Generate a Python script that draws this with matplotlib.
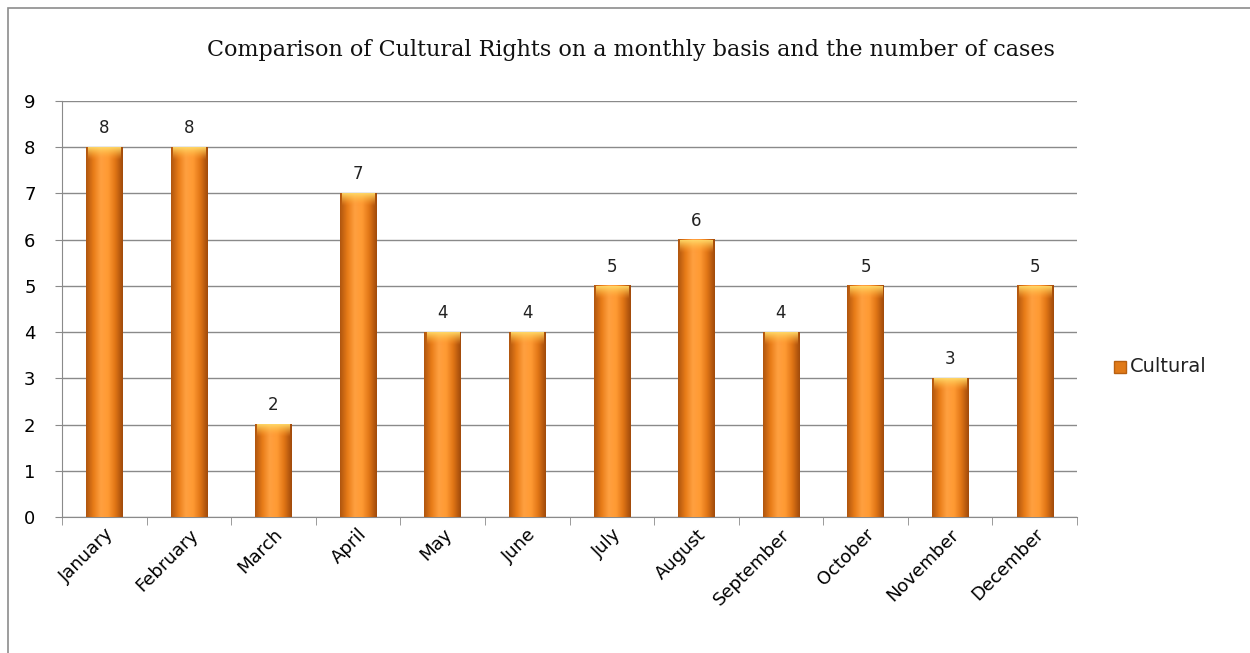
import numpy as np
import matplotlib.pyplot as plt
from matplotlib.colors import LinearSegmentedColormap
from matplotlib.patches import Rectangle

months = ['January', 'February', 'March', 'April', 'May', 'June', 'July',
          'August', 'September', 'October', 'November', 'December']
cases = [8, 8, 2, 7, 4, 4, 5, 6, 4, 5, 3, 5]
series_name = 'Cultural'

fig = plt.figure(figsize=(12.5, 6.53), dpi=100)
ax = fig.add_axes([0.0496, 0.2083, 0.812, 0.637])

# outer frame of the chart (left / top visible)
fig.patches.append(Rectangle((8 / 1250, -0.1), 1.2, 1 - 8 / 653 + 0.1,
                             transform=fig.transFigure, fill=False,
                             edgecolor='#8c8c8c', linewidth=1.2))

x = np.arange(len(months))
width = 0.43
bars = ax.bar(x, cases, width=width, color='#f08a1c', zorder=2)

# cylinder like shading across each bar
cmap = LinearSegmentedColormap.from_list(
    'orange_cyl', ['#b0560f', '#e87c18', '#ffa040', '#ff9a33', '#e07515', '#a04a0b'])
cap_cmap = LinearSegmentedColormap.from_list(
    'cap', [(1, 0.6, 0.2, 0.0), (1, 0.75, 0.3, 0.5), (1, 0.86, 0.42, 0.95)])
grad = np.linspace(0, 1, 64).reshape(1, -1)
cap = np.linspace(0, 1, 32).reshape(-1, 1)
for b in bars:
    x0, w, h = b.get_x(), b.get_width(), b.get_height()
    ax.imshow(grad, cmap=cmap, aspect='auto', extent=[x0, x0 + w, 0, h],
              zorder=3, interpolation='bicubic')
    # light cap at the top
    ax.imshow(cap, cmap=cap_cmap, aspect='auto',
              extent=[x0 + w * 0.06, x0 + w * 0.94, h - 0.28, h],
              zorder=4, interpolation='bicubic', origin='lower')
    ax.text(x0 + w / 2, h + 0.22, str(int(h)), ha='center', va='bottom',
            fontsize=12, color='#222222', zorder=5)

ax.set_xlim(-0.5, len(months) - 0.5)
ax.set_ylim(0, 9)
ax.set_yticks(range(0, 10))
ax.set_yticklabels([str(v) for v in range(0, 10)], fontsize=13)
ax.yaxis.grid(True, color='#8a8a8a', linewidth=1.0, zorder=0)
ax.set_axisbelow(True)

ax.set_xticks(x)
ax.set_xticklabels(months, rotation=45, ha='right', rotation_mode='anchor',
                   fontsize=13)
ax.tick_params(axis='x', length=0, pad=6)
ax.set_xticks(np.arange(-0.5, len(months)), minor=True)
ax.tick_params(axis='x', which='minor', length=6, color='#8a8a8a')
ax.tick_params(axis='y', length=5, color='#8a8a8a', pad=14)

for s in ['top', 'right']:
    ax.spines[s].set_visible(False)
for s in ['left', 'bottom']:
    ax.spines[s].set_color('#8a8a8a')

fig.text(0.505, 0.923, 'Comparison of Cultural Rights on a monthly basis and the number of cases',
         ha='center', va='center', fontsize=16, family='DejaVu Serif', color='#111111')

# legend
fig.patches.append(Rectangle((1114 / 1250, 1 - 373 / 653), 12 / 1250, 12 / 653,
                             transform=fig.transFigure, facecolor='#e07a18',
                             edgecolor='#b86010'))
fig.text(1130 / 1250, 1 - 366 / 653, series_name, ha='left', va='center',
         fontsize=14, color='#222222')

fig.savefig('out.png', dpi=100)
